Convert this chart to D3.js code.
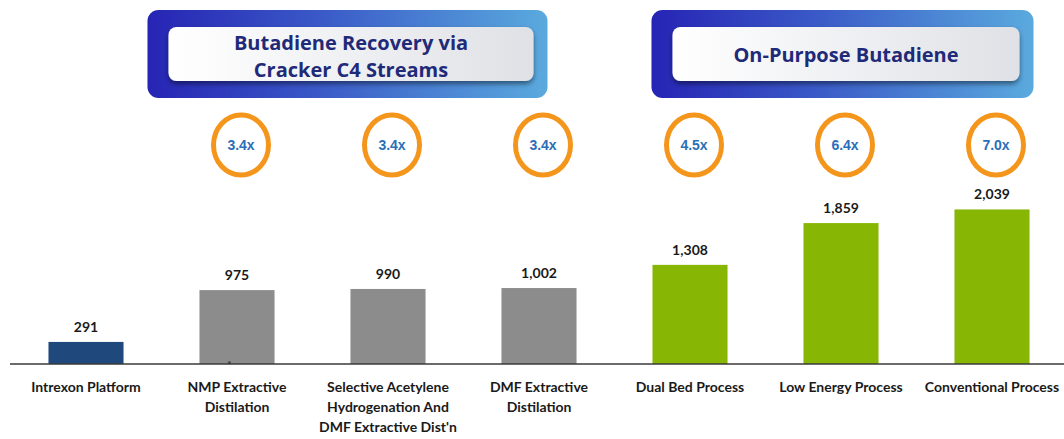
<!DOCTYPE html>
<html>
<head>
<meta charset="utf-8">
<script src="https://cdn.jsdelivr.net/npm/d3@7"></script>
<style>
  body { margin: 0; background: #fff; }
  svg { display: block; font-family: Lato, "Open Sans", sans-serif; }
</style>
</head>
<body>
<svg id="chart" width="1064" height="439"></svg>
<script>
var width = 1064,
    height = 439;

// Data
var categories = ["Intrexon Platform", "NMP Extractive\nDistilation",
    "Selective Acetylene\nHydrogenation And\nDMF Extractive Dist'n",
    "DMF Extractive\nDistilation", "Dual Bed Process", "Low Energy Process",
    "Conventional Process"];
var values = [291, 975, 990, 1002, 1308, 1859, 2039];
var groups = ["intrexon", "recovery", "recovery", "recovery", "onpurpose", "onpurpose", "onpurpose"];
var multiples = [null, "3.4x", "3.4x", "3.4x", "4.5x", "6.4x", "7.0x"];
var headerLines = [["Butadiene Recovery via", "Cracker C4 Streams"], ["On-Purpose Butadiene"]];
var headerSpan = [[1, 3], [4, 6]];

var colors = { intrexon: "#1f497d", recovery: "#8c8c8c", onpurpose: "#88b604" };

var svg = d3.select("#chart");
var defs = svg.append("defs");

// Header gradients / shadow
var outerGrad = defs.append("linearGradient").attr("id", "outerGrad");
outerGrad.append("stop").attr("offset", "0%").attr("stop-color", "#2624b4");
outerGrad.append("stop").attr("offset", "45%").attr("stop-color", "#3b5cc8");
outerGrad.append("stop").attr("offset", "100%").attr("stop-color", "#5aaade");

var innerGrad = defs.append("linearGradient").attr("id", "innerGrad");
innerGrad.append("stop").attr("offset", "0%").attr("stop-color", "#ffffff");
innerGrad.append("stop").attr("offset", "100%").attr("stop-color", "#dfe1e6");

defs.append("filter").attr("id", "shadow")
    .attr("x", "-10%").attr("y", "-20%").attr("width", "120%").attr("height", "160%")
    .append("feDropShadow")
    .attr("dx", 0).attr("dy", 3).attr("stdDeviation", 2.5)
    .attr("flood-color", "#000").attr("flood-opacity", 0.45);

// Scales
var x = d3.scaleBand()
    .domain(d3.range(categories.length))
    .range([10.5, 1067.5])
    .paddingInner(0.503)
    .paddingOuter(0.2515);

var baseline = 364;
var y = d3.scaleLinear()
    .domain([0, 2200])
    .range([baseline, baseline - 2200 * 0.0758]);

// Bars
svg.append("g").attr("class", "bars")
    .selectAll("rect")
    .data(values)
    .join("rect")
    .attr("x", function (d, i) { return x(i); })
    .attr("y", function (d) { return y(d); })
    .attr("width", x.bandwidth())
    .attr("height", function (d) { return y(0) - y(d); })
    .attr("fill", function (d, i) { return colors[groups[i]]; });

// Baseline
svg.append("line")
    .attr("x1", 10).attr("x2", width)
    .attr("y1", baseline).attr("y2", baseline)
    .attr("stroke", "#3a3a3a").attr("stroke-width", 1.5);

// small stray mark at the foot of the NMP bar
svg.append("text")
    .attr("x", x(1) + x.bandwidth() * 0.37)
    .attr("y", baseline + 4)
    .attr("font-size", 10)
    .attr("fill", "#222")
    .text("*");

// Value labels
svg.append("g").attr("class", "values")
    .selectAll("text")
    .data(values)
    .join("text")
    .attr("x", function (d, i) { return x(i) + x.bandwidth() / 2; })
    .attr("y", function (d) { return y(d) - 10; })
    .attr("text-anchor", "middle")
    .attr("font-size", 14)
    .attr("font-weight", 700)
    .attr("fill", "#1a1a1a")
    .text(function (d) { return d3.format(",")(d); });

// Category labels
var cat = svg.append("g").attr("class", "categories")
    .selectAll("text")
    .data(categories)
    .join("text")
    .attr("x", function (d, i) { return x(i) + x.bandwidth() / 2; })
    .attr("y", baseline + 28)
    .attr("text-anchor", "middle")
    .attr("font-size", 14)
    .attr("font-weight", 700)
    .attr("fill", "#1a1a1a");
cat.selectAll("tspan")
    .data(function (d) { return d.split("\n"); })
    .join("tspan")
    .attr("x", function () { return this.parentNode.getAttribute("x"); })
    .attr("dy", function (d, i) { return i === 0 ? 0 : 20; })
    .text(function (d) { return d; });

// Multiple rings
var rings = svg.append("g").attr("class", "rings")
    .selectAll("g")
    .data(multiples.map(function (m, i) { return { m: m, i: i }; })
        .filter(function (d) { return d.m; }))
    .join("g")
    .attr("transform", function (d) {
        return "translate(" + (x(d.i) + x.bandwidth() / 2 + 4) + ",145)";
    });
rings.append("ellipse")
    .attr("rx", 27.5).attr("ry", 30)
    .attr("fill", "#fff")
    .attr("stroke", "#f4951c")
    .attr("stroke-width", 5);
rings.append("text")
    .attr("text-anchor", "middle")
    .attr("dy", 5)
    .attr("font-family", "Liberation Sans, Arial, sans-serif")
    .attr("font-size", 14)
    .attr("font-weight", 700)
    .attr("fill", "#2a6fb8")
    .text(function (d) { return d.m; });

// Header boxes: outer extent relative to the bars they cover
var headPad = [[-52, -29], [-1, 4]];
var head = svg.append("g").attr("class", "headers")
    .selectAll("g")
    .data(headerLines)
    .join("g");
head.each(function (lines, k) {
    var g = d3.select(this);
    var x0 = x(headerSpan[k][0]) + headPad[k][0],
        x1 = x(headerSpan[k][1]) + x.bandwidth() + headPad[k][1];
    g.append("rect")
        .attr("x", x0).attr("y", 10)
        .attr("width", x1 - x0).attr("height", 88)
        .attr("rx", 11)
        .attr("fill", "url(#outerGrad)");
    var ix0 = x0 + 21, ix1 = x1 - 14;
    g.append("rect")
        .attr("x", ix0).attr("y", 27)
        .attr("width", ix1 - ix0).attr("height", 54)
        .attr("rx", 8)
        .attr("fill", "url(#innerGrad)")
        .attr("filter", "url(#shadow)");
    var cx = (ix0 + ix1) / 2;
    var t = g.append("text")
        .attr("text-anchor", "middle")
        .attr("font-family", "'Open Sans', sans-serif")
        .attr("font-size", 20)
        .attr("font-weight", 700)
        .attr("fill", "#1f2a78");
    var startY = lines.length === 1 ? 62 : 50;
    lines.forEach(function (line, i) {
        t.append("tspan").attr("x", cx).attr("y", startY + i * 27).text(line);
    });
});
</script>
</body>
</html>
